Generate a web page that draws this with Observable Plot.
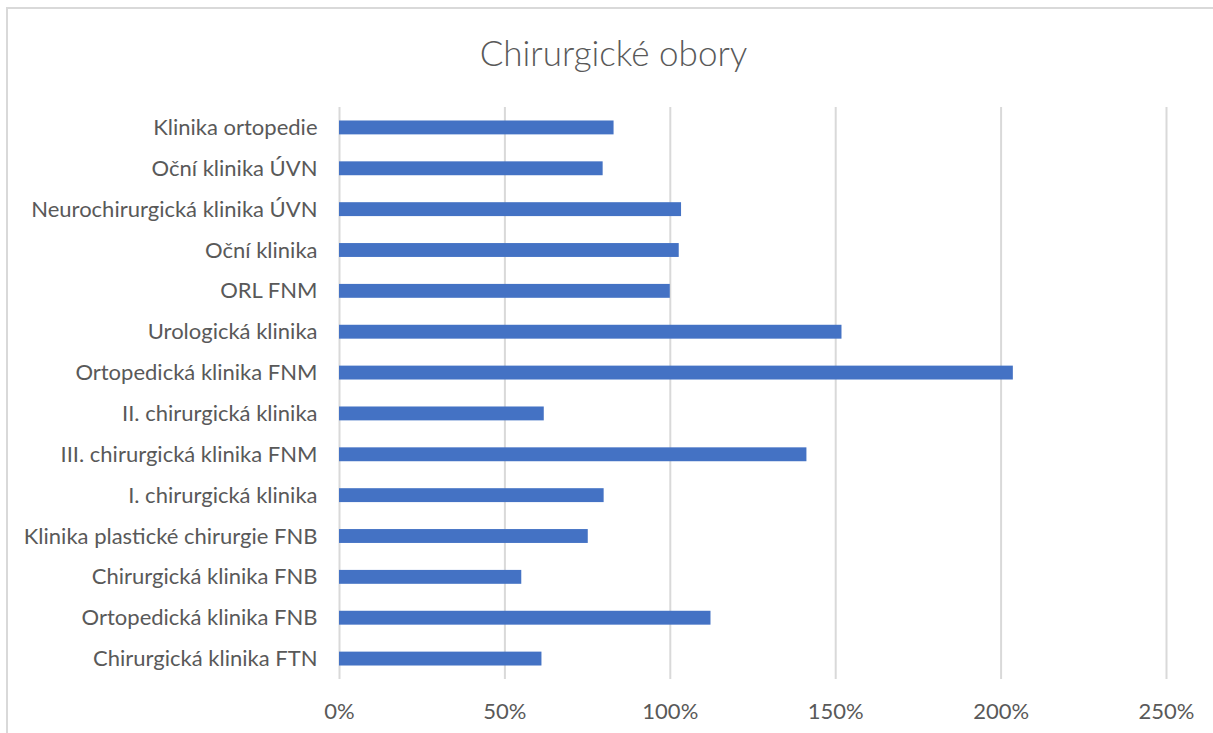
<!DOCTYPE html>
<html>
<head>
<meta charset="utf-8">
<script src="https://cdn.jsdelivr.net/npm/d3@7"></script>
<script src="https://cdn.jsdelivr.net/npm/@observablehq/plot@0.6"></script>
<style>
  html, body { margin: 0; padding: 0; background: #fff; width: 1213px; height: 733px; overflow: hidden; }
  #frame { position: absolute; left: 6px; top: 7px; width: 1220px; height: 740px; border: 2px solid #d9d9d9; box-sizing: border-box; }
  #title { position: absolute; left: 7px; top: 29px; width: 1213px; text-align: center; font-family: Lato, sans-serif; font-weight: 300; font-size: 35px; color: #595959; line-height: 46px; }
  #chart { position: absolute; left: 0; top: 80px; }
</style>
</head>
<body>
<div id="frame"></div>
<div id="title">Chirurgické obory</div>
<div id="chart"></div>
<script>
const categories = [
  "Klinika ortopedie",
  "Oční klinika ÚVN",
  "Neurochirurgická klinika ÚVN",
  "Oční klinika",
  "ORL FNM",
  "Urologická klinika",
  "Ortopedická klinika FNM",
  "II. chirurgická klinika",
  "III. chirurgická klinika FNM",
  "I. chirurgická klinika",
  "Klinika plastické chirurgie FNB",
  "Chirurgická klinika FNB",
  "Ortopedická klinika FNB",
  "Chirurgická klinika FTN"
];
const values = [0.83, 0.797, 1.034, 1.027, 1.0, 1.519, 2.037, 0.619, 1.413, 0.80, 0.752, 0.551, 1.123, 0.612];
const xTicks = [0, 0.5, 1, 1.5, 2, 2.5];

const data = categories.map((c, i) => ({category: c, value: values[i]}));

const chart = Plot.plot({
  width: 1213,
  height: 653,
  marginTop: 27,
  marginBottom: 54,
  marginLeft: 339,
  marginRight: 47,
  style: { fontFamily: "Lato, sans-serif", fontSize: "22px", color: "#595959", background: "transparent" },
  x: { domain: [0, 2.5], ticks: xTicks, tickFormat: d3.format(".0%"), label: null },
  y: { domain: categories, paddingInner: 0.66, paddingOuter: 0.33, round: false, label: null },
  marks: [
    Plot.gridX(xTicks, { stroke: "#d9d9d9", strokeOpacity: 1, strokeWidth: 2 }),
    Plot.axisX({ ticks: xTicks, tickFormat: d3.format(".0%"), tickSize: 0, tickPadding: 24, label: null, fill: "#595959" }),
    Plot.axisY({ tickSize: 0, tickPadding: 22, label: null, fill: "#595959" }),
    Plot.barX(data, { x: "value", y: "category", fill: "#4472C4" })
  ]
});
document.getElementById("chart").appendChild(chart);
</script>
</body>
</html>
